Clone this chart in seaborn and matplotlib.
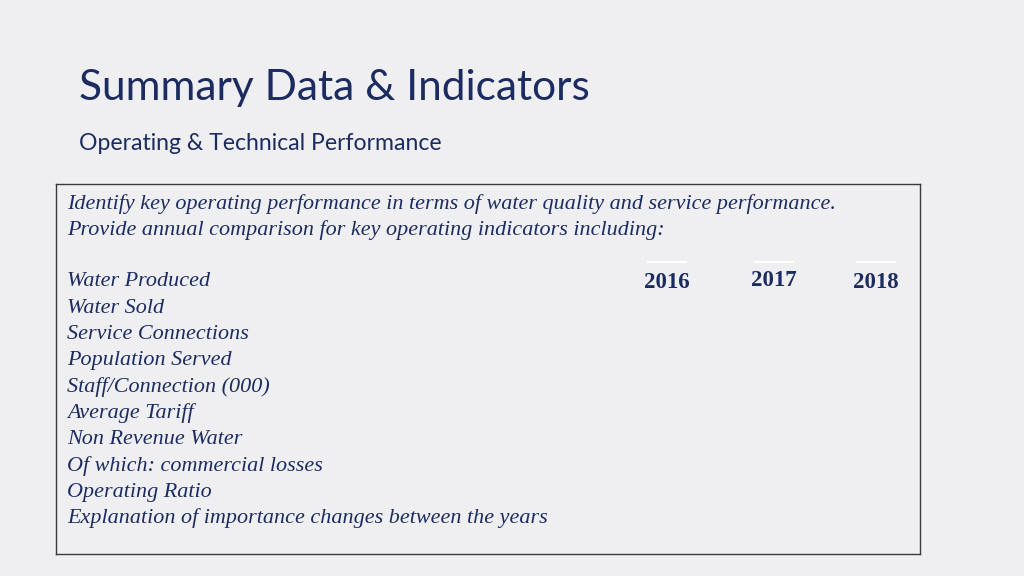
import matplotlib
matplotlib.use("Agg")
import matplotlib.pyplot as plt
import seaborn as sns

# slide texts
title = "Summary Data & Indicators"
subtitle = "Operating & Technical Performance"
intro_lines = [
    "Identify key operating performance in terms of water quality and service performance.",
    "Provide annual comparison for key operating indicators including:",
]
indicators = [
    "Water Produced",
    "Water Sold",
    "Service Connections",
    "Population Served",
    "Staff/Connection (000)",
    "Average Tariff",
    "Non Revenue Water",
    "Of which: commercial losses",
    "Operating Ratio",
    "Explanation of importance changes between the years",
]
years = ["2016", "2017", "2018"]

navy = "#1c2c60"
bg = "#efeff1"

sns.set_theme(style="white")
plt.rcParams["font.family"] = ["Lato", "DejaVu Sans"]

W, H = 1024, 576
fig = plt.figure(figsize=(W / 100, H / 100), dpi=100, facecolor=bg)

# title block (pixel positions converted to figure fraction)
fig.text(79 / W, 1 - 100 / H, title, fontsize=30.5, color=navy,
         fontweight="normal", va="baseline", ha="left")
fig.text(79 / W, 1 - 150 / H, subtitle, fontsize=16.6, color=navy,
         va="baseline", ha="left")

# framed box
left, right, top, bottom = 56, 920, 184, 554
ax = fig.add_axes([left / W, 1 - bottom / H, (right - left) / W, (bottom - top) / H])
ax.set_facecolor(bg)
ax.set_xlim(left, right)
ax.set_ylim(bottom, top)
ax.set_xticks([])
ax.set_yticks([])
for s in ax.spines.values():
    s.set_color("#3a3a3a")
    s.set_linewidth(1.0)

serif = ["Liberation Serif", "DejaVu Serif"]
line_h = 26.3

for i, line in enumerate(intro_lines):
    ax.text(67, 208.5 + i * line_h, line, family=serif, style="italic",
            fontsize=15.9, color=navy, va="baseline", ha="left")

for i, name in enumerate(indicators):
    ax.text(67, 286.5 + i * line_h, name, family=serif, style="italic",
            fontsize=15.9, color=navy, va="baseline", ha="left")

year_x = [667, 774, 876]
year_base = [288.5, 286.5, 288.5]
for x, yb, yr in zip(year_x, year_base, years):
    ax.text(x, yb, yr, family=serif, fontweight="bold", fontsize=16.5,
            color=navy, va="baseline", ha="center")
    ax.plot([x - 20, x + 20], [262, 262], color="white", lw=1.5,
            solid_capstyle="butt")

fig.savefig("out.png", dpi=100, facecolor=bg)
